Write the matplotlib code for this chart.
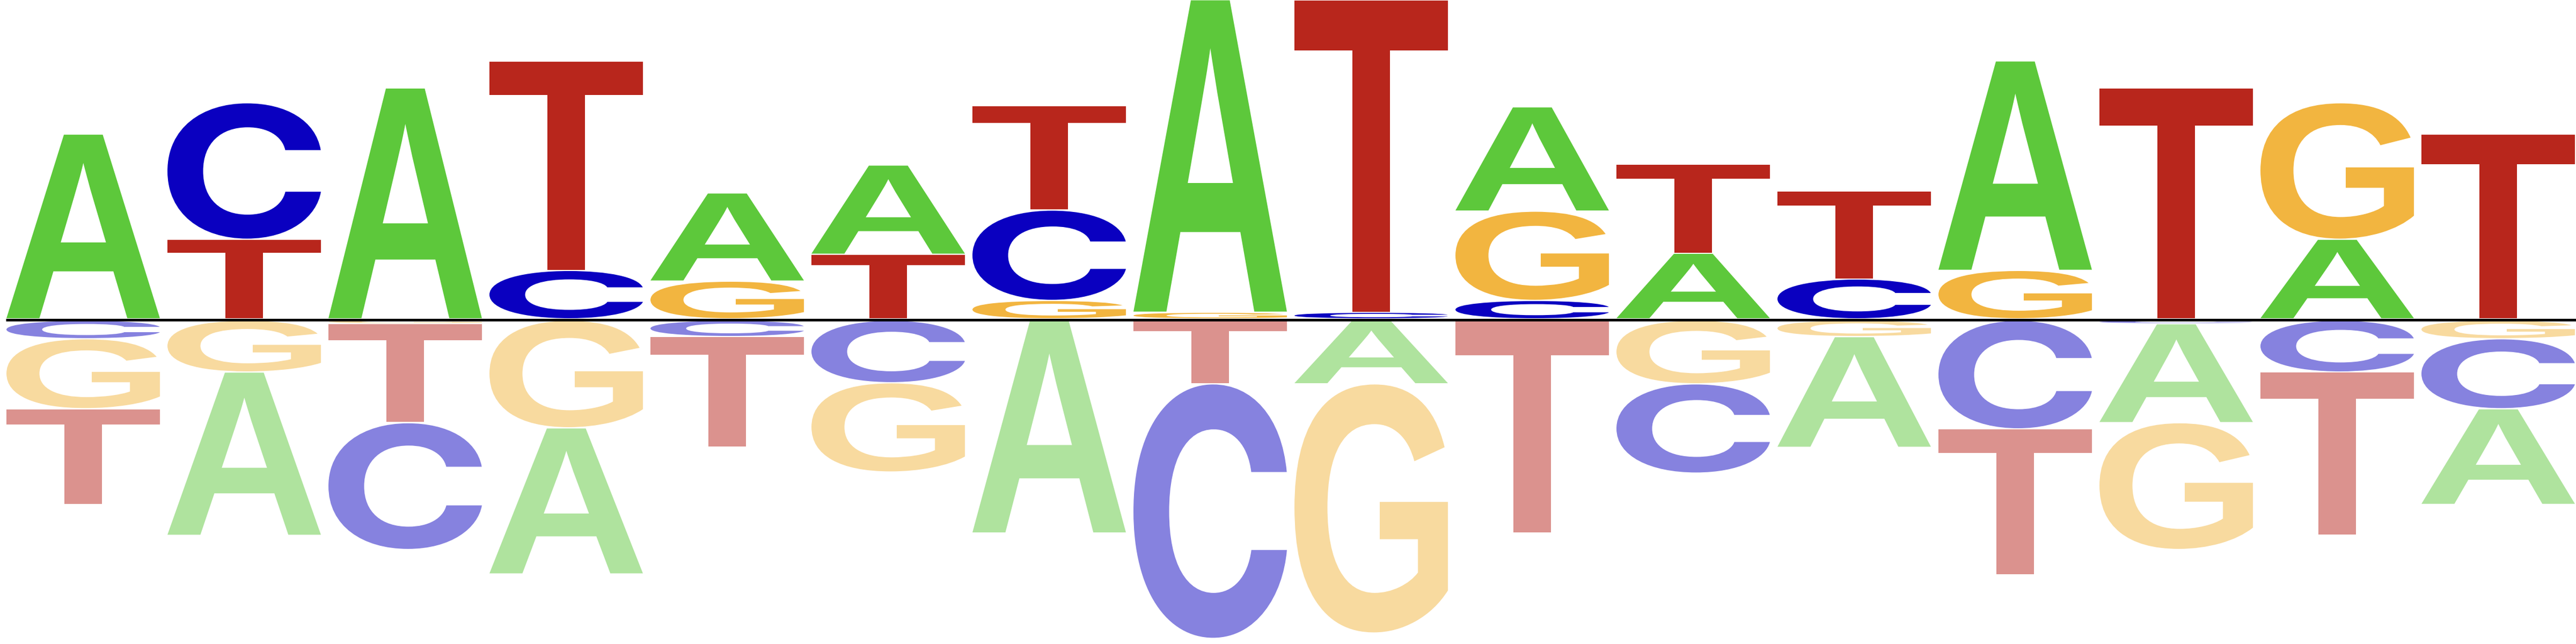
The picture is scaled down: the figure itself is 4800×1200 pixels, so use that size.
"""Draw a two-sided sequence logo (enriched letters above, depleted below)."""

from __future__ import annotations

import matplotlib

matplotlib.use("Agg")

import matplotlib.pyplot as plt
from matplotlib.font_manager import FontProperties
from matplotlib.patches import PathPatch
from matplotlib.text import TextPath
from matplotlib.transforms import Affine2D

# letter heights per position (16 positions), above the baseline
POS_A = [1.71, 0.00, 2.14, 0.00, 0.81, 0.82, 0.00, 2.90, 0.00, 0.96, 0.60, 0.00, 1.94, 0.00, 0.73, 0.00]
POS_C = [0.00, 1.26, 0.00, 0.44, 0.00, 0.00, 0.83, 0.00, 0.05, 0.16, 0.00, 0.36, 0.00, 0.00, 0.00, 0.00]
POS_G = [0.00, 0.00, 0.00, 0.00, 0.34, 0.00, 0.16, 0.05, 0.00, 0.82, 0.00, 0.00, 0.44, 0.00, 1.26, 0.00]
POS_T = [0.00, 0.73, 0.00, 1.94, 0.00, 0.59, 0.96, 0.00, 2.90, 0.00, 0.82, 0.81, 0.00, 2.14, 0.00, 1.71]

# letter heights per position, below the baseline
NEG_A = [0.00, 1.51, 0.00, 1.35, 0.00, 0.00, 1.97, 0.00, 0.58, 0.00, 0.00, 1.02, 0.00, 0.91, 0.00, 0.88]
NEG_C = [0.16, 0.00, 1.17, 0.00, 0.14, 0.57, 0.00, 2.36, 0.00, 0.00, 0.82, 0.00, 1.00, 0.02, 0.47, 0.64]
NEG_G = [0.64, 0.47, 0.02, 0.99, 0.00, 0.82, 0.00, 0.00, 2.31, 0.00, 0.58, 0.14, 0.00, 1.17, 0.00, 0.16]
NEG_T = [0.88, 0.00, 0.91, 0.00, 1.02, 0.00, 0.00, 0.58, 0.00, 1.97, 0.00, 0.00, 1.35, 0.00, 1.51, 0.00]

COLORS = {"A": "#5dc83b", "C": "#0a00c0", "G": "#f2b540", "T": "#b8261c"}
LIGHT = {"A": "#afe39e", "C": "#8682df", "G": "#f8da9f", "T": "#db928e"}

# Helvetica-like shapes: flat-cut C from Inter, the rest from Liberation Sans
_LIB = FontProperties(family="Liberation Sans", weight="bold")
_INTER = FontProperties(family="Inter", weight="bold")
FONTS = {"A": _LIB, "C": _INTER, "G": _LIB, "T": _LIB}

WIDTH = 0.953
GAP = 0.012
OFFSET = 0.0125


def _draw_letter(ax, ch: str, x: float, y0: float, h: float, color: str) -> None:
    """Stretch a glyph so it fills the box [x-w/2, x+w/2] x [y0, y0+h]."""

    path = TextPath((0, 0), ch, size=1, prop=FONTS[ch])
    bb = path.get_extents()
    tr = (
        Affine2D()
        .translate(-bb.x0, -bb.y0)
        .scale(WIDTH / bb.width, h / bb.height)
        .translate(x - WIDTH / 2, y0)
    )
    ax.add_patch(PathPatch(tr.transform_path(path), facecolor=color, edgecolor="none", lw=0))


def _draw_stacks(ax, columns: dict, palette: dict, sign: int) -> None:
    """Stack letters per position, smallest next to the baseline."""

    n = len(next(iter(columns.values())))
    for i in range(n):
        items = sorted(((columns[ch][i], ch) for ch in columns if columns[ch][i] > 0))
        y = OFFSET
        for h, ch in items:
            y0 = y if sign > 0 else -(y + h)
            _draw_letter(ax, ch, i, y0, h, palette[ch])
            y += h + GAP


def main() -> None:
    fig = plt.figure(figsize=(48, 12), dpi=100)
    ax = fig.add_axes([0, 0, 1, 1])

    _draw_stacks(ax, {"A": POS_A, "C": POS_C, "G": POS_G, "T": POS_T}, COLORS, 1)
    _draw_stacks(ax, {"A": NEG_A, "C": NEG_C, "G": NEG_G, "T": NEG_T}, LIGHT, -1)

    n = len(POS_A)
    ax.plot([-0.48, n], [0, 0], color="black", lw=3.6, solid_capstyle="butt")

    ax.set_xlim(-0.5167, n - 0.5167)
    ax.set_ylim(-3.0225, 2.9775)
    ax.set_axis_off()
    fig.savefig("out.png", dpi=100, facecolor="white")


if __name__ == "__main__":
    main()
